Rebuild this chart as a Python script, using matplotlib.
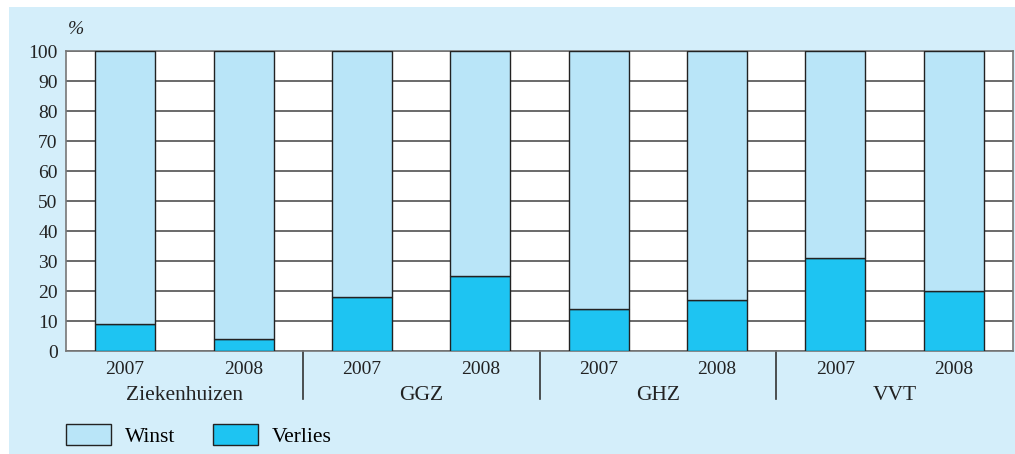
import numpy as np
import matplotlib.pyplot as plt
from matplotlib.patches import Rectangle
from matplotlib.lines import Line2D

# data
groups = ['Ziekenhuizen', 'GGZ', 'GHZ', 'VVT']
years = ['2007', '2008']
verlies = [9, 4, 18, 25, 14, 17, 31, 20]
winst = [100 - v for v in verlies]

c_winst = '#b9e5f8'
c_verlies = '#1ec4f2'
c_bg = '#d4eefa'

plt.rcParams['font.family'] = ['Liberation Serif', 'DejaVu Serif']

fig = plt.figure(figsize=(10.15, 4.54), dpi=100)
fig.patch.set_facecolor('white')
# light blue panel behind the chart
fig.patches.append(Rectangle((9 / 1015, 0), 1 - 9 / 1015, 1 - 7 / 454,
                             transform=fig.transFigure, facecolor=c_bg,
                             edgecolor='none', zorder=-10))

ax = fig.add_axes([66 / 1015, 103 / 454, 947 / 1015, 300 / 454])
ax.set_facecolor('white')

x = np.arange(len(verlies))
b1 = ax.bar(x, verlies, width=0.507, color=c_verlies, edgecolor='#222222',
            linewidth=1.0, zorder=3, label='Verlies')
b2 = ax.bar(x, winst, width=0.507, bottom=verlies, color=c_winst,
            edgecolor='#222222', linewidth=1.0, zorder=3, label='Winst')

ax.set_xlim(-0.5, len(verlies) - 0.5)
ax.set_ylim(0, 100)
ax.set_yticks(range(0, 101, 10))
ax.yaxis.grid(True, color='#505050', linewidth=1.2, zorder=1)
ax.set_axisbelow(True)
ax.tick_params(axis='both', length=0, labelsize=14, colors='#222222', pad=6)
ax.tick_params(axis='x', pad=7)
ax.set_xticks(x)
ax.set_xticklabels(years * len(groups))
for s in ax.spines.values():
    s.set_color('#777777')
    s.set_linewidth(1.2)

# group labels and separators under the axis
for i, g in enumerate(groups):
    ax.text(2 * i + 0.5, -0.147, g, transform=ax.get_xaxis_transform(),
            ha='center', va='center', fontsize=15.5, color='#222222')
for i in range(1, len(groups)):
    ax.add_line(Line2D([2 * i - 0.5, 2 * i - 0.5], [0, -0.16],
                       transform=ax.get_xaxis_transform(), color='#333333',
                       linewidth=1.2, clip_on=False))

ax.text(0.002, 1.07, '%', transform=ax.transAxes, fontsize=14,
        style='italic', ha='left', va='center', color='#222222')

fig.legend(handles=[b2, b1], labels=['Winst', 'Verlies'],
           loc='lower left', bbox_to_anchor=(66 / 1015, 7 / 454),
           ncol=2, frameon=False, fontsize=15.5, handlelength=2.1,
           handleheight=1.15, handletextpad=0.65, columnspacing=1.72,
           borderpad=0, borderaxespad=0)

fig.savefig('out.png', dpi=100, facecolor=fig.get_facecolor())
